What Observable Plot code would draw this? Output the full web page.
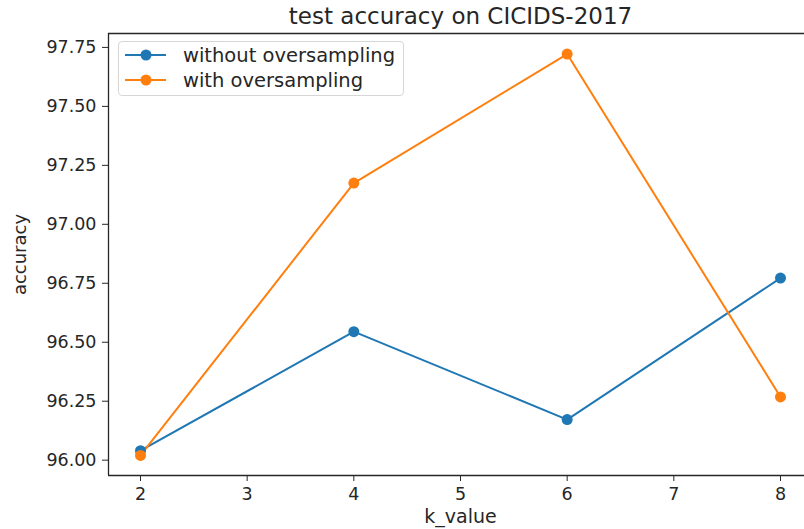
<!DOCTYPE html>
<html>
<head>
<meta charset="utf-8">
<script src="https://cdn.jsdelivr.net/npm/d3@7"></script>
<script src="https://cdn.jsdelivr.net/npm/@observablehq/plot@0.6"></script>
<style>
  html, body { margin: 0; padding: 0; background: #fff; }
  #chart { position: relative; width: 804px; height: 529px; font-family: "DejaVu Sans", sans-serif; }
  .legend {
    position: absolute; left: 118px; top: 41px; width: 286px; height: 55px;
    border: 1px solid #d6d6d6; border-radius: 4px; background: rgba(255,255,255,0.8);
    box-sizing: border-box; font-size: 19.5px; color: #262626;
  }
  .legend .row { position: absolute; left: 6px; height: 22px; display: flex; align-items: center; white-space: nowrap; }
  .legend svg { margin-right: 16px; }
</style>
</head>
<body>
<div id="chart"></div>
<script>
// k values tested and test accuracy (%) for each setting
const kValues = [2, 4, 6, 8];
const withoutOversampling = [96.04, 96.545, 96.172, 96.772];
const withOversampling = [96.02, 97.175, 97.722, 96.268];
const seriesNames = ["without oversampling", "with oversampling"];
const seriesColors = ["#1f77b4", "#ff7f0e"];
const xTicks = [2, 3, 4, 5, 6, 7, 8];
const yTicks = [96.00, 96.25, 96.50, 96.75, 97.00, 97.25, 97.50, 97.75];

const rows = [
  ...kValues.map((k, i) => ({k, acc: withoutOversampling[i], series: seriesNames[0]})),
  ...kValues.map((k, i) => ({k, acc: withOversampling[i], series: seriesNames[1]}))
];

const xDomain = [1.7, 8.3];
const yDomain = [95.935, 97.809];

const plot = Plot.plot({
  width: 804,
  height: 529,
  marginTop: 33,
  marginBottom: 54,
  marginLeft: 108,
  marginRight: 0,
  style: {fontFamily: "DejaVu Sans, sans-serif", color: "#262626", background: "#fff"},
  x: {domain: xDomain, range: [108, 812]},
  y: {domain: yDomain},
  color: {domain: seriesNames, range: seriesColors},
  marks: [
    Plot.ruleX([xDomain[0]], {stroke: "#262626", strokeWidth: 1.3}),
    Plot.ruleY(yDomain, {stroke: "#262626", strokeWidth: 1.3}),
    Plot.axisX(xTicks, {
      anchor: "bottom", tickSize: 6, tickPadding: 6, fontSize: 17.5,
      label: null
    }),
    Plot.axisY(yTicks, {
      anchor: "left", tickSize: 6, tickPadding: 6, fontSize: 17.5,
      tickFormat: d3.format(".2f"),
      label: null
    }),
    Plot.line(rows, {x: "k", y: "acc", stroke: "series", strokeWidth: 2}),
    Plot.dot(rows, {x: "k", y: "acc", fill: "series", r: 5.5}),
    // axis titles and chart title
    Plot.text(["k_value"], {
      frameAnchor: "bottom", lineAnchor: "middle", textAnchor: "middle",
      dy: 41, dx: 4, fontSize: 19, fill: "#262626"
    }),
    Plot.text(["accuracy"], {
      frameAnchor: "left", lineAnchor: "middle", textAnchor: "middle",
      dx: -88, rotate: -90, fontSize: 18, fill: "#262626"
    }),
    Plot.text(["test accuracy on CICIDS-2017"], {
      frameAnchor: "top", lineAnchor: "middle", textAnchor: "middle",
      dy: -17, dx: 4, fontSize: 23, fill: "#262626"
    })
  ]
});

const chart = document.getElementById("chart");
chart.appendChild(plot);

// legend inside the axes, upper left
const legend = document.createElement("div");
legend.className = "legend";
seriesNames.forEach((name, i) => {
  const row = document.createElement("div");
  row.className = "row";
  row.style.top = (2 + i * 25) + "px";
  row.innerHTML =
    `<svg width="42" height="14"><line x1="0" x2="41" y1="7" y2="7" stroke="${seriesColors[i]}" stroke-width="2"/>` +
    `<circle cx="21" cy="7" r="5.5" fill="${seriesColors[i]}"/></svg><span>${name}</span>`;
  legend.appendChild(row);
});
chart.appendChild(legend);
</script>
</body>
</html>
